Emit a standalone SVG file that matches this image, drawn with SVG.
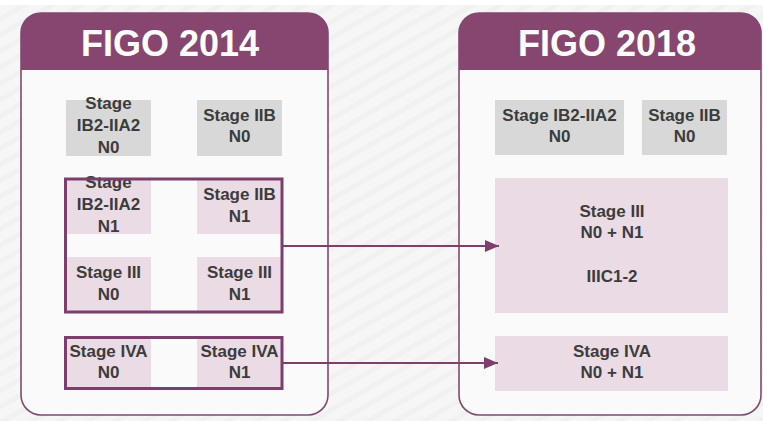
<svg xmlns="http://www.w3.org/2000/svg" width="763" height="421" viewBox="0 0 763 421">
<defs>
<pattern id="stripes" width="14" height="14" patternUnits="userSpaceOnUse" patternTransform="rotate(-30)">
<rect width="14" height="14" fill="#f6f6f6"/>
<rect width="14" height="5" fill="#f1f1f1"/>
</pattern>
<marker id="arr" viewBox="0 0 14 12" refX="14" refY="6" markerWidth="14" markerHeight="12" markerUnits="userSpaceOnUse" orient="auto">
<path d="M0,0 L14,6 L0,12 Z" fill="#7e3f6c"/>
</marker>
<style>
.panel{fill:#fafafa;stroke:#7e4a6e;stroke-width:1.6}
.hdr{fill:#87466f}
.htxt{font-family:"Liberation Sans",Arial,sans-serif;font-weight:bold;font-size:36px;fill:#ffffff;text-anchor:middle}
.gray{fill:#d8d8d8}
.pink{fill:#eadbe5}
.t{font-family:"Liberation Sans",Arial,sans-serif;font-weight:bold;font-size:17px;fill:#3c3c3c;text-anchor:middle}
.grp{fill:none;stroke:#7c3e6c;stroke-width:3}
.conn{fill:none;stroke:#7e3f6c;stroke-width:1.8;marker-end:url(#arr)}
</style>
</defs>
<rect x="0" y="0" width="763" height="421" fill="url(#stripes)"/>
<rect x="0" y="0" width="763" height="5" fill="#ffffff"/>

<g id="panel-2014">
<path class="panel" d="M21,33 A20,20 0 0 1 41,13 L308,13 A20,20 0 0 1 328,33 L328,395 A20,20 0 0 1 308,415 L41,415 A20,20 0 0 1 21,395 Z"/>
<path class="hdr" d="M21,33 A20,20 0 0 1 41,13 L308,13 A20,20 0 0 1 328,33 L328,70 L21,70 Z"/>
<text class="htxt" x="170" y="56">FIGO 2014</text>
</g>

<g id="panel-2018">
<path class="panel" d="M459,33 A20,20 0 0 1 479,13 L741,13 A20,20 0 0 1 761,33 L761,395 A20,20 0 0 1 741,415 L479,415 A20,20 0 0 1 459,395 Z"/>
<path class="hdr" d="M459,33 A20,20 0 0 1 479,13 L741,13 A20,20 0 0 1 761,33 L761,70 L459,70 Z"/>
<text class="htxt" x="607" y="56">FIGO 2018</text>
</g>

<g id="l-ib2-n0">
<rect class="gray" x="66" y="100" width="85" height="56"/>
<text class="t" x="108.5" y="109">Stage</text>
<text class="t" x="108.5" y="131">IB2-IIA2</text>
<text class="t" x="108.5" y="153">N0</text>
</g>
<g id="l-iib-n0">
<rect class="gray" x="197" y="100" width="85" height="56"/>
<text class="t" x="239.5" y="121">Stage IIB</text>
<text class="t" x="239.5" y="142">N0</text>
</g>

<g id="l-ib2-n1">
<rect class="pink" x="66" y="178" width="85" height="56"/>
<text class="t" x="108.5" y="188">Stage</text>
<text class="t" x="108.5" y="210">IB2-IIA2</text>
<text class="t" x="108.5" y="232">N1</text>
</g>
<g id="l-iib-n1">
<rect class="pink" x="197" y="178" width="85" height="56"/>
<text class="t" x="239.5" y="200">Stage IIB</text>
<text class="t" x="239.5" y="222">N1</text>
</g>
<g id="l-iii-n0">
<rect class="pink" x="66" y="257" width="85" height="56"/>
<text class="t" x="108.5" y="278">Stage III</text>
<text class="t" x="108.5" y="300">N0</text>
</g>
<g id="l-iii-n1">
<rect class="pink" x="197" y="257" width="85" height="56"/>
<text class="t" x="239.5" y="278">Stage III</text>
<text class="t" x="239.5" y="300">N1</text>
</g>
<g id="l-group-iii">
<rect class="grp" x="65.5" y="179" width="216.5" height="133"/>
</g>

<g id="l-iva-n0">
<rect class="pink" x="66" y="336" width="85" height="54"/>
<text class="t" x="108.5" y="357">Stage IVA</text>
<text class="t" x="108.5" y="378">N0</text>
</g>
<g id="l-iva-n1">
<rect class="pink" x="197" y="336" width="85" height="54"/>
<text class="t" x="239.5" y="357">Stage IVA</text>
<text class="t" x="239.5" y="378">N1</text>
</g>
<g id="l-group-iva">
<rect class="grp" x="65.5" y="337.5" width="216.5" height="51"/>
</g>

<g id="r-ib2-n0">
<rect class="gray" x="495" y="100" width="129" height="55"/>
<text class="t" x="559.5" y="121">Stage IB2-IIA2</text>
<text class="t" x="559.5" y="142">N0</text>
</g>
<g id="r-iib-n0">
<rect class="gray" x="642" y="100" width="85" height="55"/>
<text class="t" x="684.5" y="121">Stage IIB</text>
<text class="t" x="684.5" y="142">N0</text>
</g>
<g id="r-iii">
<rect class="pink" x="495" y="178" width="233" height="135"/>
<text class="t" x="612" y="217">Stage III</text>
<text class="t" x="612" y="238">N0 + N1</text>
<text class="t" x="612" y="282">IIIC1-2</text>
</g>
<g id="r-iva">
<rect class="pink" x="495" y="336" width="233" height="55"/>
<text class="t" x="612" y="357">Stage IVA</text>
<text class="t" x="612" y="378">N0 + N1</text>
</g>

<g id="connectors">
<line class="conn" x1="283" y1="246" x2="499" y2="246"/>
<line class="conn" x1="283" y1="363" x2="498" y2="363"/>
</g>
</svg>
